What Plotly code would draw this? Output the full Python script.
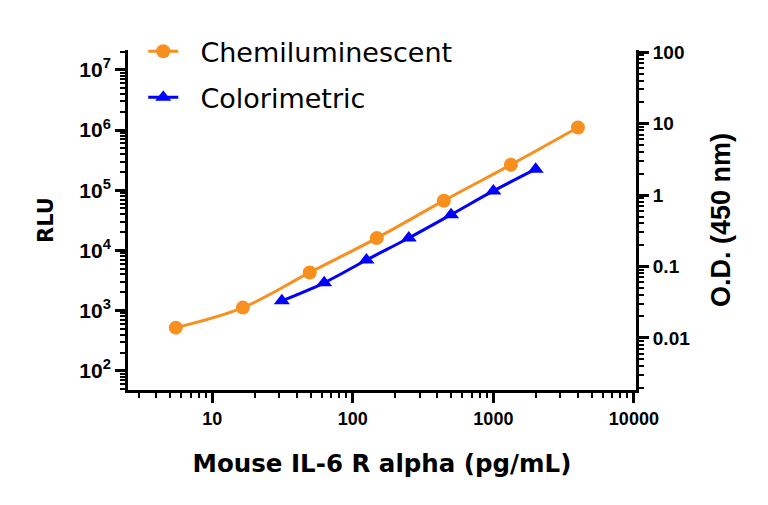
import numpy as np
import plotly.graph_objects as go

# Data
chemi_conc = [5.5, 16.5, 49.4, 148, 444, 1333, 4000]
chemi_rlu = [520, 1120, 4300, 16000, 67000, 265000, 1100000]
color_conc = [31.25, 62.5, 125, 250, 500, 1000, 2000]
color_od = [0.033, 0.059, 0.123, 0.25, 0.53, 1.14, 2.3]

x_ticks = [10, 100, 1000, 10000]
x_ticklabels = ["10", "100", "1000", "10000"]
y_ticks = [1e2, 1e3, 1e4, 1e5, 1e6, 1e7]
y_ticklabels = ["10<sup>2</sup>", "10<sup>3</sup>", "10<sup>4</sup>", "10<sup>5</sup>", "10<sup>6</sup>", "10<sup>7</sup>"]
y2_ticks = [0.01, 0.1, 1, 10, 100]
y2_ticklabels = ["0.01", "0.1", "1", "10", "100"]

def minor_vals(lo, hi):
    out = []
    for e in range(lo, hi + 1):
        for m in range(2, 10):
            out.append(m * 10.0 ** e)
    return out

def bold(labels):
    return ["<b>" + t + "</b>" for t in labels]

ORANGE = "#F7901E"
BLUE = "#0000FF"
ARIAL = "Liberation Sans, Arial, sans-serif"
GOTHIC = "DejaVu Sans, sans-serif"
NBSP = "\u00a0"

fig = go.Figure()
fig.add_trace(go.Scatter(
    x=chemi_conc, y=chemi_rlu, name=NBSP * 2 + "Chemiluminescent",
    mode="lines+markers", line=dict(color=ORANGE, width=3, shape="spline"),
    marker=dict(symbol="circle", size=14, color=ORANGE),
    legend="legend", showlegend=True,
))
fig.add_trace(go.Scatter(
    x=color_conc, y=color_od, name=NBSP * 2 + "Colorimetric", yaxis="y2",
    mode="lines+markers", line=dict(color=BLUE, width=3, shape="spline"),
    marker=dict(symbol="triangle-up", size=14, color=BLUE),
    legend="legend2", showlegend=True,
))

axis_common = dict(showline=True, linecolor="black", linewidth=3, ticks="outside",
                   tickcolor="black", tickwidth=3, ticklen=10, showgrid=False, zeroline=False)
minor_common = dict(ticks="outside", ticklen=5, tickwidth=2, tickcolor="black")

fig.update_layout(
    width=768, height=505,
    margin=dict(l=128, r=132, t=50, b=115),
    plot_bgcolor="white", paper_bgcolor="white",
    showlegend=True,
    xaxis=dict(type="log", range=[0.4, 4.015], tickvals=x_ticks, ticktext=bold(x_ticklabels),
               tickfont=dict(family=ARIAL, size=18, color="black"),
               title=dict(text="<b>Mouse IL-6 R alpha (pg/mL)</b>",
                          font=dict(family=GOTHIC, size=24.5, color="black"), standoff=28),
               minor=dict(tickvals=minor_vals(0, 3), **minor_common),
               **axis_common),
    yaxis=dict(type="log", range=[1.68, 7.33], tickvals=y_ticks, ticktext=bold(y_ticklabels),
               tickfont=dict(family=ARIAL, size=21, color="black"),
               title=dict(text="<b>RLU</b>", font=dict(family=GOTHIC, size=21, color="black"), standoff=20),
               minor=dict(tickvals=minor_vals(1, 7), **minor_common),
               **axis_common),
    yaxis2=dict(type="log", range=[-2.73, 2.03], overlaying="y", side="right", anchor="x",
                tickvals=y2_ticks, ticktext=bold(y2_ticklabels),
                tickfont=dict(family=ARIAL, size=19, color="black"),
                title=dict(text="<b>O.D. (450 nm)</b>", font=dict(family=ARIAL, size=27, color="black"), standoff=22),
                minor=dict(tickvals=minor_vals(-3, 1), **minor_common),
                **axis_common),
    legend=dict(x=0.03, y=0.995, xanchor="left", yanchor="middle", bgcolor="rgba(0,0,0,0)",
                font=dict(family=GOTHIC, size=27, color="black")),
    legend2=dict(x=0.03, y=0.86, xanchor="left", yanchor="middle", bgcolor="rgba(0,0,0,0)",
                 font=dict(family=GOTHIC, size=27, color="black")),
)

fig.write_html("out.html")
